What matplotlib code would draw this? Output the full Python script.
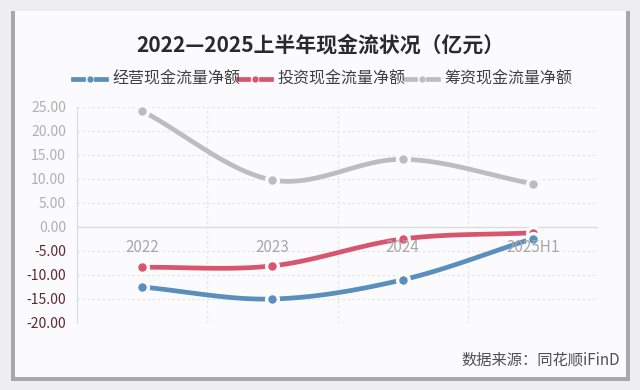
import numpy as np
import matplotlib
matplotlib.use("Agg")
import matplotlib.pyplot as plt
from matplotlib.patches import Rectangle
from matplotlib.lines import Line2D

plt.rcParams['font.family'] = ['Noto Sans CJK SC', 'DejaVu Sans']

# 数据（亿元）
categories = ['2022', '2023', '2024', '2025H1']
series_names = ['经营现金流量净额', '投资现金流量净额', '筹资现金流量净额']
operating = [-12.5, -15.0, -11.0, -2.4]
investing = [-8.4, -8.1, -2.5, -1.2]
financing = [24.2, 9.8, 14.1, 9.0]
colors = ['#5a8fbd', '#d9546d', '#bdbdbd']
yticks = [25, 20, 15, 10, 5, 0, -5, -10, -15, -20]


def smooth(x, y, n=40):
    # Catmull-Rom 曲线，让折线看起来平滑
    x = np.asarray(x, float)
    y = np.asarray(y, float)
    px = np.concatenate([[2 * x[0] - x[1]], x, [2 * x[-1] - x[-2]]])
    py = np.concatenate([[2 * y[0] - y[1]], y, [2 * y[-1] - y[-2]]])
    xs, ys = [], []
    t = np.linspace(0, 1, n)
    for i in range(1, len(px) - 2):
        for p, out in ((px, xs), (py, ys)):
            p0, p1, p2, p3 = p[i - 1], p[i], p[i + 1], p[i + 2]
            out.extend(0.5 * ((2 * p1) + (-p0 + p2) * t
                              + (2 * p0 - 5 * p1 + 4 * p2 - p3) * t ** 2
                              + (-p0 + 3 * p1 - 3 * p2 + p3) * t ** 3))
    return np.array(xs), np.array(ys)


fig = plt.figure(figsize=(6.4, 3.9), dpi=100, facecolor='#eeeef0')

# 白色卡片 + 阴影边
fig.patches.append(Rectangle((11 / 640, 1 - 381 / 390), 619 / 640, 370 / 390,
                             transform=fig.transFigure, facecolor='#a8a8a8',
                             edgecolor='none', zorder=-2))
fig.patches.append(Rectangle((15 / 640, 1 - 377 / 390), 611 / 640, 366 / 390,
                             transform=fig.transFigure, facecolor='#fbfbfd',
                             edgecolor='none', zorder=-1))

ax = fig.add_axes([77 / 640, 1 - 323 / 390, 521 / 640, 216 / 390])
ax.set_facecolor('none')
ax.set_xlim(-0.5, len(categories) - 0.5)
ax.set_ylim(-20, 25)

x = np.arange(len(categories))
for vals, c in zip([financing, investing, operating], colors[::-1]):
    sx, sy = smooth(x, vals)
    ax.plot(sx, sy, color=c, lw=3.4, solid_capstyle='round', zorder=3)
    ax.plot(x, vals, 'o', color=c, ms=8.5, mec='#fbfbfd', mew=2.4, zorder=4)

# 网格
ax.set_yticks(yticks)
for v in yticks:
    if v == 0:
        ax.axhline(v, color='#dcdce0', lw=1.0, zorder=1)
    else:
        ax.axhline(v, color='#e6e6e6', lw=0.9, ls=(0, (2, 2)), zorder=1)
for gx in np.arange(-0.5, len(categories), 1.0):
    ax.axvline(gx, color='#e6e6e6', lw=0.9, ls=(0, (2, 2)), zorder=1)

for s in ['top', 'right', 'bottom']:
    ax.spines[s].set_visible(False)
ax.spines['left'].set_color('#dcdcdc')
ax.set_xticks([])
ax.tick_params(axis='y', length=0, pad=8, labelsize=10)
ax.set_yticklabels([f'{v:.2f}' for v in yticks])
for lab, v in zip(ax.get_yticklabels(), yticks):
    lab.set_color('#b0b0b0' if v >= 0 else '#5a2b2e')

# 类目标签在零轴下方，压在线上面
for i, cat in enumerate(categories):
    ax.text(i, -4.2, cat, ha='center', va='center', fontsize=11,
            color='#a8a8a8', zorder=5)

# 标题
fig.text(0.5, 1 - 45 / 390, '2022—2025上半年现金流状况（亿元）', ha='center',
         va='center', fontsize=15, fontweight='bold', color='#2a2a2a')

# 图例
ly = 1 - 79 / 390
starts = [73, 238, 405]
for name, c, s in zip(series_names, colors, starts):
    x0 = s / 640
    fig.add_artist(Line2D([x0, x0 + 10 / 640], [ly, ly], color=c, lw=3.4,
                          transform=fig.transFigure))
    fig.add_artist(Line2D([x0 + 23 / 640, x0 + 33 / 640], [ly, ly], color=c,
                          lw=3.4, transform=fig.transFigure))
    fig.add_artist(Line2D([x0 + 16.5 / 640], [ly], marker='o', ms=3.5, color=c,
                          lw=0, transform=fig.transFigure))
    fig.text(x0 + 39 / 640, ly, name, ha='left', va='center', fontsize=11.5,
             color='#404040')

# 数据来源
fig.text(1 - 20 / 640, 1 - 360 / 390, '数据来源：同花顺iFinD', ha='right',
         va='center', fontsize=11, color='#505050')

fig.savefig('out.png', dpi=100, facecolor=fig.get_facecolor())
